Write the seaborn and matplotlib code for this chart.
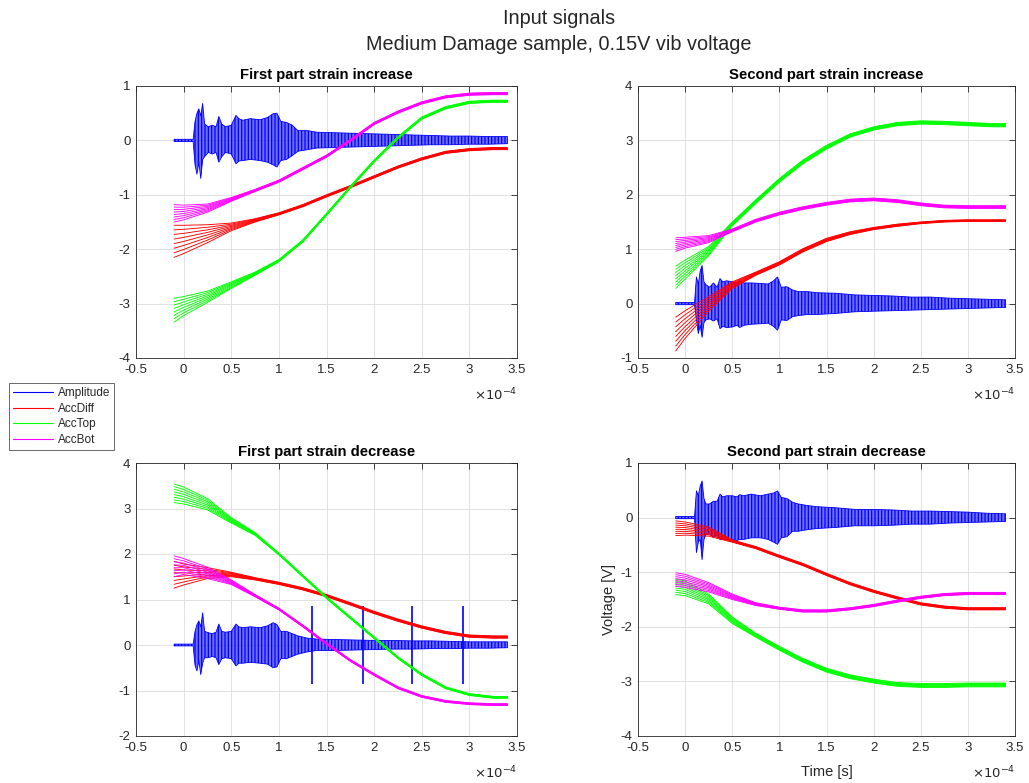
import numpy as np
import pandas as pd
import matplotlib
matplotlib.use("Agg")
import matplotlib.pyplot as plt
import seaborn as sns
from matplotlib.lines import Line2D

sns.set_theme(style="white")
plt.rcParams["font.family"] = ["Liberation Sans", "DejaVu Sans"]
plt.rcParams["axes.unicode_minus"] = False
plt.rcParams["hatch.linewidth"] = 0.9

# ---------------- data (time in units of 1e-4 s, voltage in V) ----------------
suptitle_lines = ["Input signals", "Medium Damage sample, 0.15V vib voltage"]
panel_titles = ["First part strain increase", "Second part strain increase",
                "First part strain decrease", "Second part strain decrease"]
series_names = ["Amplitude", "AccDiff", "AccTop", "AccBot"]
series_colors = ["#0000ff", "#ff0000", "#00ff00", "#ff00ff"]

x_ticks = [-0.5, 0, 0.5, 1, 1.5, 2, 2.5, 3, 3.5]
x_tick_labels = ["-0.5", "0", "0.5", "1", "1.5", "2", "2.5", "3", "3.5"]
y_ticks_p1 = [-4, -3, -2, -1, 0, 1]
y_ticks_p2 = [-1, 0, 1, 2, 3, 4]
y_ticks_p3 = [-2, -1, 0, 1, 2, 3, 4]
y_ticks_p4 = [-4, -3, -2, -1, 0, 1]

# grid on which the accelerometer bundles (upper / lower edge of each bundle) were read
acc_x = [-0.1, 0, 0.25, 0.5, 0.75, 1.0, 1.25, 1.5, 1.75, 2.0, 2.25, 2.5, 2.75, 3.0, 3.25, 3.4]

# Panel 1: First part strain increase
p1_diff_up = [-1.56, -1.56, -1.55, -1.52, -1.44, -1.33, -1.18, -1.00, -0.83, -0.65, -0.47, -0.32, -0.20, -0.15, -0.13, -0.13]
p1_diff_lo = [-2.15, -2.08, -1.88, -1.66, -1.50, -1.37, -1.22, -1.04, -0.87, -0.69, -0.51, -0.36, -0.24, -0.19, -0.17, -0.17]
p1_top_up = [-2.90, -2.87, -2.77, -2.60, -2.42, -2.19, -1.83, -1.34, -0.84, -0.36, 0.07, 0.43, 0.62, 0.72, 0.74, 0.74]
p1_top_lo = [-3.34, -3.22, -2.98, -2.72, -2.48, -2.23, -1.87, -1.38, -0.88, -0.40, 0.03, 0.39, 0.58, 0.68, 0.70, 0.70]
p1_bot_up = [-1.18, -1.19, -1.17, -1.05, -0.90, -0.73, -0.50, -0.27, 0.02, 0.33, 0.54, 0.71, 0.82, 0.87, 0.88, 0.88]
p1_bot_lo = [-1.50, -1.46, -1.32, -1.12, -0.94, -0.77, -0.54, -0.31, -0.02, 0.29, 0.50, 0.67, 0.78, 0.83, 0.84, 0.84]

# Panel 2: Second part strain increase
p2_diff_up = [-0.25, -0.13, 0.13, 0.40, 0.58, 0.77, 1.01, 1.20, 1.32, 1.40, 1.46, 1.50, 1.53, 1.54, 1.54, 1.54]
p2_diff_lo = [-0.87, -0.64, -0.14, 0.28, 0.52, 0.71, 0.95, 1.14, 1.27, 1.36, 1.42, 1.47, 1.50, 1.51, 1.51, 1.51]
p2_top_up = [0.69, 0.80, 1.05, 1.50, 1.91, 2.30, 2.64, 2.91, 3.12, 3.25, 3.33, 3.36, 3.35, 3.33, 3.31, 3.31]
p2_top_lo = [0.28, 0.45, 0.88, 1.43, 1.84, 2.23, 2.57, 2.84, 3.06, 3.19, 3.27, 3.30, 3.29, 3.27, 3.25, 3.25]
p2_bot_up = [1.21, 1.22, 1.25, 1.37, 1.55, 1.68, 1.78, 1.86, 1.92, 1.94, 1.91, 1.85, 1.81, 1.80, 1.80, 1.80]
p2_bot_lo = [0.96, 1.02, 1.12, 1.32, 1.50, 1.63, 1.73, 1.81, 1.87, 1.89, 1.86, 1.80, 1.76, 1.75, 1.75, 1.75]

# Panel 3: First part strain decrease
p3_diff_up = [1.84, 1.78, 1.70, 1.60, 1.48, 1.38, 1.26, 1.11, 0.93, 0.74, 0.57, 0.42, 0.30, 0.22, 0.20, 0.20]
p3_diff_lo = [1.25, 1.32, 1.46, 1.50, 1.43, 1.33, 1.21, 1.06, 0.88, 0.69, 0.52, 0.37, 0.25, 0.17, 0.15, 0.15]
p3_top_up = [3.54, 3.47, 3.22, 2.80, 2.47, 2.02, 1.54, 1.06, 0.62, 0.18, -0.26, -0.63, -0.92, -1.07, -1.13, -1.13]
p3_top_lo = [3.13, 3.10, 2.97, 2.68, 2.41, 1.98, 1.50, 1.02, 0.58, 0.14, -0.30, -0.67, -0.96, -1.11, -1.17, -1.17]
p3_bot_up = [1.96, 1.90, 1.71, 1.43, 1.11, 0.81, 0.44, 0.05, -0.32, -0.63, -0.92, -1.11, -1.22, -1.27, -1.29, -1.29]
p3_bot_lo = [1.50, 1.55, 1.46, 1.33, 1.06, 0.77, 0.40, 0.01, -0.36, -0.67, -0.96, -1.15, -1.26, -1.31, -1.33, -1.33]

# Panel 4: Second part strain decrease
p4_diff_up = [-0.06, -0.08, -0.17, -0.41, -0.53, -0.69, -0.84, -1.02, -1.19, -1.33, -1.45, -1.56, -1.62, -1.65, -1.65, -1.65]
p4_diff_lo = [-0.33, -0.32, -0.34, -0.45, -0.57, -0.73, -0.88, -1.06, -1.23, -1.37, -1.49, -1.60, -1.66, -1.69, -1.69, -1.69]
p4_top_up = [-1.13, -1.16, -1.40, -1.82, -2.12, -2.36, -2.58, -2.76, -2.88, -2.96, -3.02, -3.04, -3.04, -3.03, -3.03, -3.03]
p4_top_lo = [-1.41, -1.43, -1.58, -1.94, -2.19, -2.43, -2.65, -2.83, -2.95, -3.03, -3.09, -3.11, -3.11, -3.10, -3.10, -3.10]
p4_bot_up = [-1.01, -1.04, -1.19, -1.40, -1.56, -1.64, -1.69, -1.69, -1.65, -1.59, -1.51, -1.44, -1.39, -1.37, -1.37, -1.37]
p4_bot_lo = [-1.26, -1.28, -1.36, -1.50, -1.61, -1.68, -1.73, -1.73, -1.69, -1.63, -1.55, -1.48, -1.43, -1.41, -1.41, -1.41]

# Amplitude signal: envelope (upper / lower) read on this grid
amp_x = [-0.1, 0.10, 0.12, 0.14, 0.16, 0.18, 0.20, 0.22, 0.26, 0.30, 0.34, 0.37, 0.40, 0.44, 0.50,
         0.55, 0.58, 0.62, 0.70, 0.80, 0.88, 0.94, 0.98, 1.02, 1.08, 1.14, 1.20, 1.30, 1.40, 1.60,
         1.80, 2.00, 2.20, 2.40, 2.60, 2.80, 3.00, 3.20, 3.40]
p1_amp_up = [0.02, 0.02, 0.35, 0.50, 0.58, 0.45, 0.68, 0.30, 0.25, 0.28, 0.25, 0.44, 0.30, 0.25, 0.28,
             0.46, 0.40, 0.37, 0.40, 0.38, 0.42, 0.49, 0.50, 0.35, 0.33, 0.28, 0.18, 0.18, 0.15, 0.14,
             0.13, 0.12, 0.11, 0.10, 0.09, 0.08, 0.08, 0.07, 0.07]
p1_amp_lo = [-0.02, -0.02, -0.45, -0.62, -0.40, -0.70, -0.35, -0.30, -0.22, -0.25, -0.22, -0.40, -0.30, -0.22, -0.25,
             -0.43, -0.38, -0.37, -0.35, -0.37, -0.40, -0.45, -0.49, -0.37, -0.35, -0.28, -0.20, -0.17, -0.14, -0.13,
             -0.12, -0.11, -0.10, -0.09, -0.08, -0.08, -0.07, -0.07, -0.06]
p2_amp_up = [0.02, 0.02, 0.49, 0.35, 0.60, 0.70, 0.40, 0.35, 0.30, 0.38, 0.30, 0.46, 0.40, 0.42, 0.40,
             0.38, 0.42, 0.38, 0.38, 0.37, 0.36, 0.42, 0.49, 0.30, 0.31, 0.25, 0.22, 0.22, 0.20, 0.19,
             0.16, 0.15, 0.14, 0.12, 0.12, 0.10, 0.09, 0.08, 0.07]
p2_amp_lo = [-0.02, -0.02, -0.30, -0.55, -0.40, -0.62, -0.35, -0.30, -0.28, -0.32, -0.28, -0.46, -0.42, -0.44, -0.43,
             -0.40, -0.44, -0.40, -0.38, -0.37, -0.36, -0.42, -0.49, -0.30, -0.31, -0.24, -0.22, -0.20, -0.20, -0.18,
             -0.15, -0.14, -0.13, -0.12, -0.11, -0.10, -0.09, -0.08, -0.07]
p3_amp_up = [0.02, 0.02, 0.30, 0.45, 0.53, 0.40, 0.71, 0.30, 0.27, 0.25, 0.28, 0.46, 0.30, 0.28, 0.30,
             0.46, 0.40, 0.38, 0.40, 0.38, 0.42, 0.49, 0.45, 0.30, 0.30, 0.25, 0.20, 0.15, 0.13, 0.12,
             0.11, 0.10, 0.10, 0.09, 0.09, 0.08, 0.07, 0.07, 0.07]
p3_amp_lo = [-0.02, -0.02, -0.45, -0.57, -0.35, -0.65, -0.40, -0.28, -0.28, -0.25, -0.28, -0.43, -0.30, -0.28, -0.30,
             -0.46, -0.40, -0.40, -0.38, -0.40, -0.42, -0.50, -0.48, -0.30, -0.30, -0.25, -0.20, -0.15, -0.12, -0.12,
             -0.11, -0.10, -0.09, -0.09, -0.08, -0.08, -0.07, -0.07, -0.06]
p4_amp_up = [0.02, 0.02, 0.49, 0.40, 0.58, 0.67, 0.35, 0.25, 0.25, 0.30, 0.30, 0.43, 0.38, 0.40, 0.40,
             0.38, 0.42, 0.40, 0.43, 0.40, 0.43, 0.45, 0.49, 0.37, 0.35, 0.28, 0.25, 0.22, 0.20, 0.18,
             0.15, 0.15, 0.14, 0.12, 0.12, 0.11, 0.10, 0.08, 0.07]
p4_amp_lo = [-0.02, -0.02, -0.64, -0.45, -0.40, -0.77, -0.40, -0.31, -0.30, -0.36, -0.32, -0.40, -0.40, -0.40, -0.40,
             -0.42, -0.40, -0.40, -0.37, -0.37, -0.40, -0.45, -0.49, -0.37, -0.35, -0.25, -0.25, -0.22, -0.20, -0.18,
             -0.15, -0.15, -0.14, -0.12, -0.12, -0.10, -0.09, -0.08, -0.07]

# isolated spikes of the amplitude signal in panel 3
p3_spike_x = [1.35, 1.88, 2.40, 2.93]
p3_spike_hi = [0.86, 0.86, 0.86, 0.86]
p3_spike_lo = [-0.85, -0.85, -0.85, -0.85]

curves_per_bundle = 8

panels = [
    dict(title=panel_titles[0], yticks=y_ticks_p1,
         amp=(p1_amp_up, p1_amp_lo), spikes=None,
         acc=[(p1_diff_up, p1_diff_lo), (p1_top_up, p1_top_lo), (p1_bot_up, p1_bot_lo)]),
    dict(title=panel_titles[1], yticks=y_ticks_p2,
         amp=(p2_amp_up, p2_amp_lo), spikes=None,
         acc=[(p2_diff_up, p2_diff_lo), (p2_top_up, p2_top_lo), (p2_bot_up, p2_bot_lo)]),
    dict(title=panel_titles[2], yticks=y_ticks_p3,
         amp=(p3_amp_up, p3_amp_lo), spikes=(p3_spike_x, p3_spike_hi, p3_spike_lo),
         acc=[(p3_diff_up, p3_diff_lo), (p3_top_up, p3_top_lo), (p3_bot_up, p3_bot_lo)]),
    dict(title=panel_titles[3], yticks=y_ticks_p4,
         amp=(p4_amp_up, p4_amp_lo), spikes=None,
         acc=[(p4_diff_up, p4_diff_lo), (p4_top_up, p4_top_lo), (p4_bot_up, p4_bot_lo)]),
]

# ---------------- figure ----------------
W, H = 1029, 783
fig = plt.figure(figsize=(W / 100, H / 100), dpi=100)
fig.patch.set_facecolor("white")

def rect(l, t, r, b):
    return [l / W, 1 - b / H, (r - l) / W, (b - t) / H]

rects = [rect(136, 86, 517, 358), rect(638, 86, 1015, 358),
         rect(136, 463, 517, 736), rect(638, 463, 1015, 736)]

dark = "#262626"
for i, (p, rc) in enumerate(zip(panels, rects)):
    ax = fig.add_axes(rc)
    ax.set_facecolor("white")
    ax.set_axisbelow(True)
    ax.grid(True, color="#dcdcdc", lw=0.6)

    # amplitude: dense oscillation rendered as its envelope with a vertical texture
    up, lo = p["amp"]
    ax.fill_between(amp_x, lo, up, facecolor=(0.25, 0.25, 1.0, 0.75), hatch="|||||",
                    edgecolor=series_colors[0], lw=0.6, zorder=2)
    if p["spikes"] is not None:
        sx, sh, sl = p["spikes"]
        ax.vlines(sx, sl, sh, color=series_colors[0], lw=1.2, zorder=2)

    # accelerometer bundles
    rows = []
    for s_idx, (bu, bl) in enumerate(p["acc"]):
        bu = np.asarray(bu); bl = np.asarray(bl)
        for k in range(curves_per_bundle):
            f = k / (curves_per_bundle - 1)
            yv = bl + f * (bu - bl)
            for xv, yy in zip(acc_x, yv):
                rows.append((xv, yy, series_names[s_idx + 1], f"{s_idx}_{k}"))
    df = pd.DataFrame(rows, columns=["x", "y", "series", "line"])
    sns.lineplot(data=df, x="x", y="y", hue="series", units="line", estimator=None,
                 palette=dict(zip(series_names[1:], series_colors[1:])),
                 hue_order=series_names[1:], lw=0.65, legend=False, sort=False,
                 ax=ax, zorder=3)

    ax.set_xlim(-0.5, 3.5)
    ax.set_ylim(p["yticks"][0], p["yticks"][-1])
    ax.set_xticks(x_ticks)
    ax.set_xticklabels(x_tick_labels)
    ax.set_yticks(p["yticks"])
    ax.set_yticklabels([str(v) for v in p["yticks"]])
    ax.tick_params(direction="in", length=4, width=0.6, top=True, right=True,
                   colors=dark, labelsize=9.5, pad=4)
    for sp in ax.spines.values():
        sp.set_color(dark)
        sp.set_linewidth(0.6)
        sp.set_visible(True)
    ax.set_xlabel("")
    ax.set_ylabel("")
    ax.set_title(p["title"], fontsize=10.7, fontweight="bold", color="black", pad=5)
    ax.text(1.0, -0.135, r"$\times10^{-4}$", transform=ax.transAxes, ha="right",
            va="center", fontsize=9.5, color=dark)
    if i == 3:
        ax.set_xlabel("Time [s]", fontsize=10.5, color=dark, labelpad=8)
        ax.set_ylabel("Voltage [V]", fontsize=10.5, color=dark, labelpad=3)

# suptitle
fig.text(0.543, 1 - 18 / H, suptitle_lines[0], ha="center", va="center", fontsize=14.3)
fig.text(0.543, 1 - 45 / H, suptitle_lines[1], ha="center", va="center", fontsize=14.3)

# legend
handles = [Line2D([0], [0], color=c, lw=0.8) for c in series_colors]
leg = fig.legend(handles, series_names, loc="upper left", bbox_to_anchor=(9 / W, 1 - 383 / H),
                 fontsize=8.5, frameon=True, fancybox=False, edgecolor=dark,
                 handlelength=3.4, handletextpad=0.4, labelspacing=0.3, borderpad=0.35,
                 borderaxespad=0)
leg.get_frame().set_linewidth(0.6)

fig.savefig("out.png", dpi=100, facecolor="white")
